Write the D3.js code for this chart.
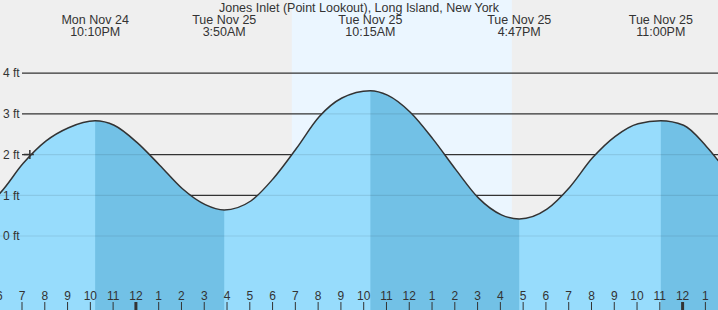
<!DOCTYPE html>
<html lang="en">
<head>
<meta charset="UTF-8">
<title>Jones Inlet tide chart</title>
<script src="https://d3js.org/d3.v7.min.js"></script>
<style>
  body { margin: 0; background: #efefef; }
  text { font-family: "Liberation Sans", Arial, sans-serif; fill: #333; }
</style>
</head>
<body>
<script>
// hours relative to midnight Tue Nov 25, water level in ft
const hours  = [-7, -6, -5, -4, -3, -1.833, -1, 0, 1, 2, 3, 3.833, 5, 6, 7, 8, 9, 10.25, 11, 12, 13, 14, 15, 16, 16.783, 18, 19, 20, 21, 22, 23, 24, 25, 26];
const levels = [0.62, 1.06, 1.78, 2.33, 2.66, 2.83, 2.72, 2.30, 1.74, 1.16, 0.77, 0.64, 0.86, 1.42, 2.15, 2.93, 3.39, 3.57, 3.46, 3.04, 2.38, 1.63, 0.93, 0.52, 0.42, 0.66, 1.2, 1.92, 2.45, 2.76, 2.83, 2.72, 2.2, 1.5];

// high / low events
const eventHours = [-1.833, 3.833, 10.25, 16.783, 23];
const eventDays  = ["Mon Nov 24", "Tue Nov 25", "Tue Nov 25", "Tue Nov 25", "Tue Nov 25"];
const eventTimes = ["10:10PM", "3:50AM", "10:15AM", "4:47PM", "11:00PM"];

const daylight = [6.8, 16.46];       // sunrise, sunset
const yTicks = [0, 1, 2, 3, 4];
const nowHour = -4.7, nowLevel = 2.0;
const title = "Jones Inlet (Point Lookout), Long Island, New York";

const width = 718, height = 310;

const x = d3.scaleLinear().domain([-6.01, 25.51]).range([0, width]);
const y = d3.scaleLinear().domain([0, 4]).range([236, 73.2]);

const svg = d3.select("body").append("svg")
    .attr("width", width)
    .attr("height", height)
    .style("display", "block");

svg.append("rect").attr("width", width).attr("height", height).attr("fill", "#efefef");
svg.append("rect")
    .attr("x", x(daylight[0]))
    .attr("width", x(daylight[1]) - x(daylight[0]))
    .attr("height", height)
    .attr("fill", "#ebf6ff");

// grid lines
svg.selectAll(".grid")
    .data(yTicks)
    .enter().append("line")
    .attr("x1", 22).attr("x2", width)
    .attr("y1", d => y(d)).attr("y2", d => y(d))
    .attr("stroke", "#333").attr("stroke-width", 1.2);

const data = hours.map((h, i) => ({h: h, v: levels[i]}));

const area = d3.area()
    .x(d => x(d.h))
    .y0(height)
    .y1(d => y(d.v))
    .curve(d3.curveMonotoneX);

const line = d3.line()
    .x(d => x(d.h))
    .y(d => y(d.v))
    .curve(d3.curveMonotoneX);

svg.append("clipPath").attr("id", "water")
    .append("path").attr("d", area(data));

const water = svg.append("g").attr("clip-path", "url(#water)");
water.append("rect").attr("width", width).attr("height", height).attr("fill", "#97dcfc");

// falling tide: from each high to the following low
const falling = [];
eventHours.forEach((h, i) => {
    const next = eventHours[i + 1];
    const isHigh = (i === 0 || levels[hours.indexOf(h)] > levels[hours.indexOf(eventHours[i - 1])]);
    if (isHigh) falling.push([h, next !== undefined ? next : 26]);
});
water.selectAll(".ebb")
    .data(falling)
    .enter().append("rect")
    .attr("x", d => x(d[0]))
    .attr("width", d => x(d[1]) - x(d[0]))
    .attr("height", height)
    .attr("fill", "#72c1e6");

water.selectAll(".wgrid")
    .data(yTicks)
    .enter().append("line")
    .attr("x1", 0).attr("x2", width)
    .attr("y1", d => y(d)).attr("y2", d => y(d))
    .attr("stroke", "#000").attr("stroke-opacity", 0.09).attr("stroke-width", 1.2);

svg.append("path")
    .attr("d", line(data))
    .attr("fill", "none")
    .attr("stroke", "#333")
    .attr("stroke-width", 1.5);

// y labels
svg.selectAll(".ylab")
    .data(yTicks)
    .enter().append("text")
    .attr("x", 3)
    .attr("y", d => y(d))
    .attr("dy", "0.35em")
    .style("font-size", "12px")
    .text(d => d + " ft");

// current time marker
svg.append("path")
    .attr("d", `M${x(nowHour) - 6},${y(nowLevel)}H${x(nowHour) + 4}M${x(nowHour)},${y(nowLevel) - 4.5}V${y(nowLevel) + 4.5}`)
    .attr("stroke", "#333").attr("stroke-width", 1.5).attr("fill", "none");

// title and event labels
svg.append("text")
    .attr("x", width / 2).attr("y", 11.5)
    .attr("text-anchor", "middle")
    .style("font-size", "12.5px")
    .text(title);

const ev = svg.selectAll(".event")
    .data(eventHours)
    .enter().append("g");
ev.append("text")
    .attr("x", d => x(d)).attr("y", 24)
    .attr("text-anchor", "middle")
    .style("font-size", "12.5px")
    .text((d, i) => eventDays[i]);
ev.append("text")
    .attr("x", d => x(d)).attr("y", 36)
    .attr("text-anchor", "middle")
    .style("font-size", "12.5px")
    .text((d, i) => eventTimes[i]);

// hour axis
const hourTicks = d3.range(-6, 26);
svg.selectAll(".hlab")
    .data(hourTicks)
    .enter().append("text")
    .attr("x", d => x(d) - 1)
    .attr("y", 300)
    .attr("text-anchor", "middle")
    .style("font-size", "12px")
    .text(d => ((d % 12) + 12) % 12 || 12);

svg.selectAll(".htick")
    .data(hourTicks)
    .enter().append("line")
    .attr("x1", d => x(d) - 1).attr("x2", d => x(d) - 1)
    .attr("y1", 302).attr("y2", height)
    .attr("stroke", "#333")
    .attr("stroke-width", d => ((d % 24) + 24) % 24 === 0 ? 3 : 1);
</script>
</body>
</html>
